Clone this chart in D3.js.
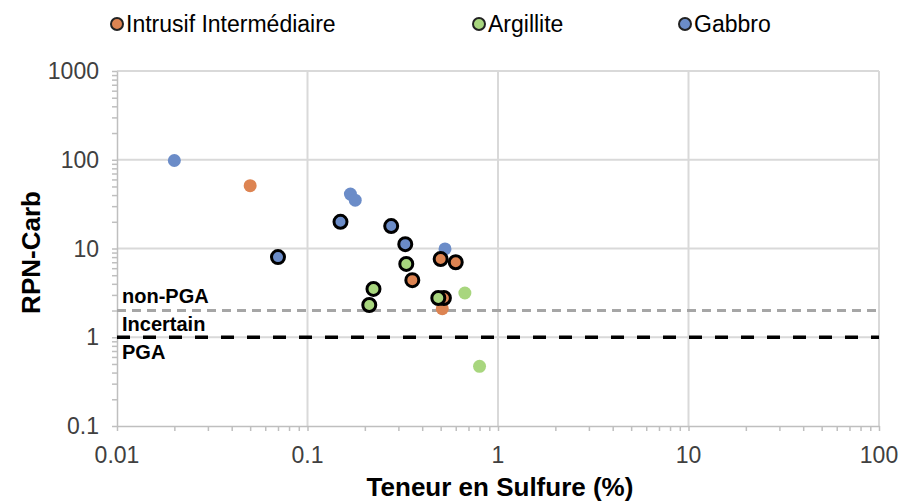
<!DOCTYPE html>
<html>
<head>
<meta charset="utf-8">
<script src="https://cdn.jsdelivr.net/npm/d3@7"></script>
<style>
  html, body { margin: 0; padding: 0; background: #fff; }
  svg { display: block; }
  text { font-family: "Liberation Sans", Arial, sans-serif; }
</style>
</head>
<body>
<svg id="chart" width="900" height="504"></svg>
<script>
// ---------------- DATA ----------------
const categories = ["Intrusif Intermédiaire", "Argillite", "Gabbro"];
const colors = ["#DD8452", "#A8D67E", "#6B8CC8"];

// Samples drawn with a dark outline
const intrusifOutlinedX = [0.50, 0.60, 0.355, 0.52];
const intrusifOutlinedY = [7.6, 7.0, 4.4, 2.77];
const argilliteOutlinedX = [0.33, 0.222, 0.211, 0.486];
const argilliteOutlinedY = [6.7, 3.5, 2.31, 2.77];
const gabbroOutlinedX = [0.07, 0.149, 0.275, 0.326];
const gabbroOutlinedY = [8.0, 20, 17.9, 11.2];

// Samples drawn without outline
const intrusifPlainX = [0.05, 0.51];
const intrusifPlainY = [51, 2.1];
const argillitePlainX = [0.67, 0.80];
const argillitePlainY = [3.15, 0.47];
const gabbroPlainX = [0.02, 0.168, 0.178, 0.527];
const gabbroPlainY = [98, 41, 35, 9.9];

const xTicks = [0.01, 0.1, 1, 10, 100];
const yTicks = [0.1, 1, 10, 100, 1000];
const xTickLabels = ["0.01", "0.1", "1", "10", "100"];
const yTickLabels = ["0.1", "1", "10", "100", "1000"];

const thresholdNonPGA = 2;
const thresholdPGA = 1;
const zoneLabels = ["non-PGA", "Incertain", "PGA"];

const xTitle = "Teneur en Sulfure (%)";
const yTitle = "RPN-Carb";

// ---------------- CHART ----------------
const svg = d3.select("#chart");
const m = { left: 117, right: 879, top: 71, bottom: 426 };

const x = d3.scaleLog().domain([0.01, 100]).range([m.left, m.right]);
const y = d3.scaleLog().domain([0.1, 1000]).range([m.bottom, m.top]);

const minorX = [];
[0.01, 0.1, 1, 10].forEach(d => { for (let k = 2; k <= 9; k++) minorX.push(d * k); });
const minorY = [];
[0.1, 1, 10, 100].forEach(d => { for (let k = 2; k <= 9; k++) minorY.push(d * k); });

const grid = svg.append("g");
grid.selectAll("line.vx").data(xTicks.slice(1)).join("line")
  .attr("x1", d => x(d)).attr("x2", d => x(d))
  .attr("y1", m.top).attr("y2", m.bottom)
  .attr("stroke", "#D9D9D9").attr("stroke-width", 2);
grid.selectAll("line.hy").data(yTicks.slice(1)).join("line")
  .attr("x1", m.left).attr("x2", m.right)
  .attr("y1", d => y(d)).attr("y2", d => y(d))
  .attr("stroke", "#D9D9D9").attr("stroke-width", 2);

// Axes
const axisColor = "#BFBFBF";
const xAxis = d3.axisBottom(x).tickValues(minorX.concat(xTicks)).tickFormat("").tickSize(5).tickSizeOuter(0);
const gx = svg.append("g").attr("transform", `translate(0,${m.bottom})`).call(xAxis);
gx.selectAll("path,line").attr("stroke", axisColor).attr("stroke-width", 1.5);

const yAxis = d3.axisLeft(y).tickValues(minorY.concat(yTicks)).tickFormat("").tickSize(5).tickSizeOuter(0);
const gy = svg.append("g").attr("transform", `translate(${m.left},0)`).call(yAxis);
gy.selectAll("path,line").attr("stroke", axisColor).attr("stroke-width", 1.5);

// Tick labels
svg.append("g").selectAll("text").data(xTicks).join("text")
  .attr("x", d => x(d)).attr("y", 463)
  .attr("text-anchor", "middle")
  .attr("font-size", 23).attr("fill", "#404040")
  .text((d, i) => xTickLabels[i]);
svg.append("g").selectAll("text").data(yTicks).join("text")
  .attr("x", 99).attr("y", d => y(d) + 8)
  .attr("text-anchor", "end")
  .attr("font-size", 23).attr("fill", "#404040")
  .text((d, i) => yTickLabels[i]);

// Axis titles
svg.append("text")
  .attr("x", (m.left + m.right) / 2 + 2).attr("y", 496)
  .attr("text-anchor", "middle").attr("font-size", 26).attr("font-weight", "bold")
  .attr("fill", "#000").text(xTitle);
svg.append("text")
  .attr("transform", `translate(40,${(m.top + m.bottom) / 2 + 4}) rotate(-90)`)
  .attr("text-anchor", "middle").attr("font-size", 26).attr("font-weight", "bold")
  .attr("fill", "#000").text(yTitle);

// Threshold lines
svg.append("line")
  .attr("x1", m.left).attr("x2", m.right)
  .attr("y1", y(thresholdNonPGA)).attr("y2", y(thresholdNonPGA))
  .attr("stroke", "#A6A6A6").attr("stroke-width", 3).attr("stroke-dasharray", "9,6");
svg.append("line")
  .attr("x1", m.left).attr("x2", m.right)
  .attr("y1", y(thresholdPGA)).attr("y2", y(thresholdPGA))
  .attr("stroke", "#000").attr("stroke-width", 3.5).attr("stroke-dasharray", "13,13");

// Zone labels
const zoneY = [y(thresholdNonPGA) - 8, y(thresholdNonPGA) + 20, y(thresholdPGA) + 22];
svg.append("g").selectAll("text").data(zoneLabels).join("text")
  .attr("x", 122).attr("y", (d, i) => zoneY[i])
  .attr("font-size", 20).attr("font-weight", "bold").attr("fill", "#000")
  .text(d => d);

// Points
const pts = svg.append("g");
function plot(xs, ys, color, outlined) {
  pts.append("g").selectAll("circle").data(xs.map((v, i) => [v, ys[i]])).join("circle")
    .attr("cx", d => x(d[0])).attr("cy", d => y(d[1]))
    .attr("r", 6.5)
    .attr("fill", color)
    .attr("stroke", outlined ? "#000" : "none")
    .attr("stroke-width", outlined ? 3 : 0);
}
plot(gabbroPlainX, gabbroPlainY, colors[2], false);
plot(intrusifPlainX, intrusifPlainY, colors[0], false);
plot(argillitePlainX, argillitePlainY, colors[1], false);
plot(gabbroOutlinedX, gabbroOutlinedY, colors[2], true);
plot(intrusifOutlinedX, intrusifOutlinedY, colors[0], true);
plot(argilliteOutlinedX, argilliteOutlinedY, colors[1], true);

// Legend
const legendX = [117, 479, 685];
const lg = svg.append("g").selectAll("g").data(categories).join("g")
  .attr("transform", (d, i) => `translate(${legendX[i]},24)`);
lg.append("circle").attr("r", 6).attr("fill", (d, i) => colors[i])
  .attr("stroke", "#222").attr("stroke-width", 2);
lg.append("text").attr("x", 9).attr("y", 8)
  .attr("font-size", 23).attr("fill", "#000").text(d => d);
</script>
</body>
</html>
